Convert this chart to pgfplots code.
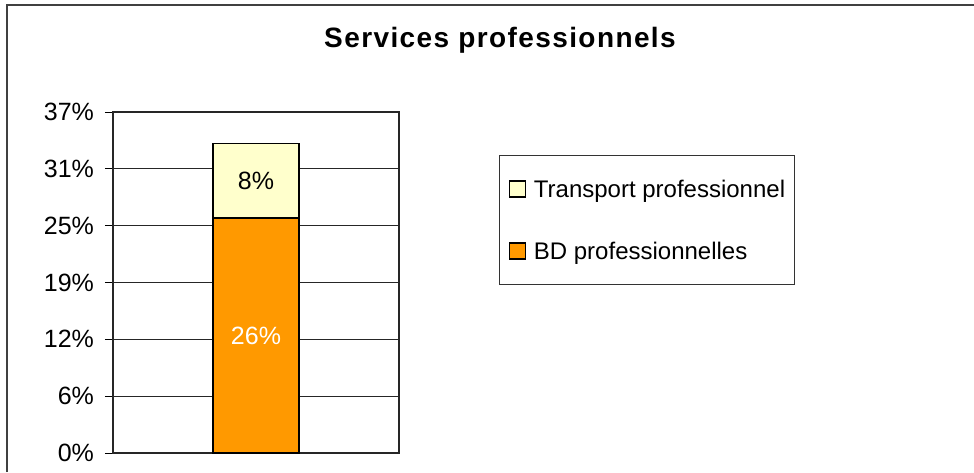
\documentclass[border=0pt]{standalone}
\usepackage{pgfplots}
\pgfplotsset{compat=1.18}
\usepackage{fontspec}
\setmainfont{Liberation Sans}
\newfontfamily\titlefont[LetterSpace=5]{Liberation Sans}

\definecolor{bdorange}{HTML}{FF9900}
\definecolor{trpale}{HTML}{FFFFCC}

\begin{document}
\begin{tikzpicture}
\useasboundingbox (0,0) rectangle (487pt,236pt);
% chart frame (only left and top edges are visible)
\draw[line width=1pt, black!75] (3.5pt,0pt) -- (3.5pt,233.5pt) -- (487pt,233.5pt);
\node[anchor=base, font=\titlefont\fontsize{14}{16}\selectfont\bfseries]
  at (250pt,212.2pt) {Services professionnels};

\begin{axis}[
    at={(56.5pt,9.5pt)}, anchor=south west,
    width=143pt, height=170.5pt, scale only axis,
    ybar stacked, bar width=43pt, bar shift=0pt,
    xmin=-1, xmax=1, xtick=\empty,
    ymin=0, ymax=0.37,
    ytick={0,0.0616667,0.1233333,0.185,0.2466667,0.3083333,0.37},
    yticklabels={0\%,6\%,12\%,19\%,25\%,31\%,37\%},
    /pgf/number format/assume math mode=true,
    tick align=outside, major tick length=4pt,
    tick style={black, line width=0.5pt},
    ytick pos=left,
    yticklabel style={font=\fontsize{12.5}{14}\selectfont, xshift=-2pt},
    ymajorgrids, grid style={black!85, line width=0.5pt},
    axis line style={black!85, line width=0.6pt},
    reverse legend,
    legend image code/.code={\draw[#1, draw=black, line width=0.7pt] (0pt,-4pt) rectangle (8pt,4pt);},
    legend style={at={(1.3497,0.8739)}, anchor=north west,
        draw=black!80, line width=0.5pt,
        inner xsep=4.5pt, inner ysep=10.75pt,
        row sep=19pt, column sep=4pt,
        font=\fontsize{12}{14}\selectfont,
        nodes={inner sep=0pt, text height=10pt, text depth=2pt}},
    legend cell align=left,
]
\addplot[fill=bdorange, draw=black, line width=0.8pt] coordinates {(0,0.255)};
\addlegendentry{BD professionnelles}
\addplot[fill=trpale, draw=black, line width=0.8pt] coordinates {(0,0.081)};
\addlegendentry{Transport professionnel}
\coordinate (lblBD) at (axis cs:0,0.1275);
\coordinate (lblTR) at (axis cs:0,0.2955);
\end{axis}
\node[font=\fontsize{12.5}{14}\selectfont, text=white] at (lblBD) {26\%};
\node[font=\fontsize{12.5}{14}\selectfont] at (lblTR) {8\%};
\end{tikzpicture}
\end{document}
